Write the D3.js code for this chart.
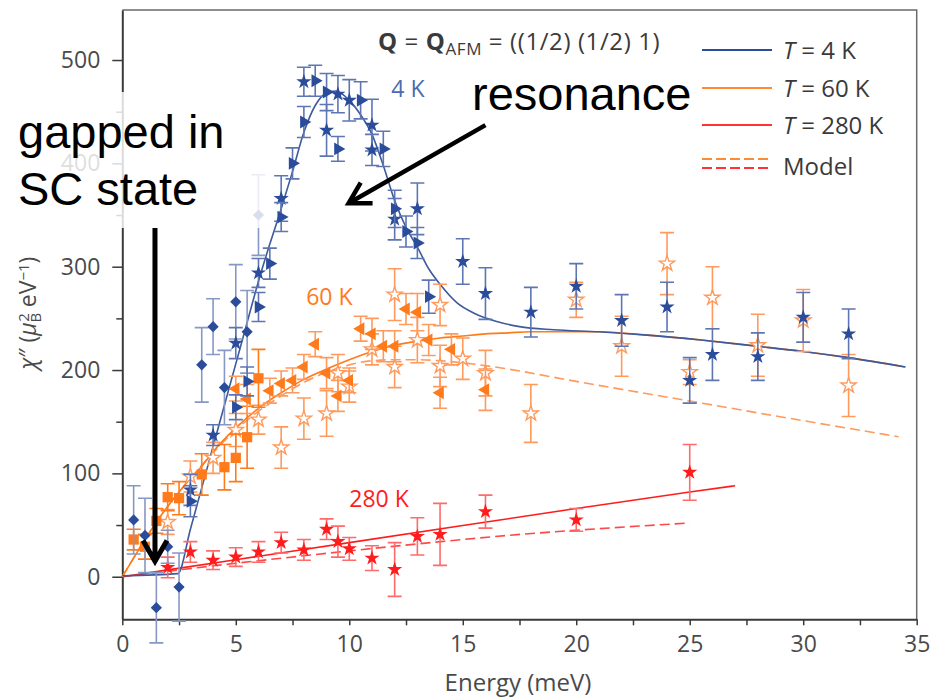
<!DOCTYPE html>
<html>
<head>
<meta charset="utf-8">
<script src="https://cdn.jsdelivr.net/npm/d3@7"></script>
<style>
  body { margin: 0; background: #fff; }
  svg { display: block; }
</style>
</head>
<body>
<svg id="chart" width="931" height="698"></svg>
<script>
// ---- axis ticks ----
const xMajorTicks = [0, 5, 10, 15, 20, 25, 30, 35];
const xMinorTicks = [2.5, 7.5, 12.5, 17.5, 22.5, 27.5, 32.5];
const yMajorTicks = [0, 100, 200, 300, 400, 500];
const yMinorTicks = [50, 150, 250, 350, 450];

// ---- measured points: [energy (meV), chi'' , error] ----
// T = 4 K
const t4Diamonds = [[0.5,55,33],[1.0,40,36],[1.5,-30,34],[2.0,29,16],[2.5,-10,33],
  [3.5,205,36],[4.0,242,27],[4.5,183,36],[5.0,266,36],[5.5,237,40],[6.0,350,39]];
const t4Stars = [[3.0,84,15],[4.0,137,10],[5.0,226,15],[6.0,294,14],[7.0,366,22],
  [8.0,479,14],[9.0,432,25],[9.5,467,18],[10.0,461,20],[11.0,437,25],[11.0,413,15],
  [12.0,346,20],[13.0,356,25],[15.0,305,22],[16.0,274,25],[18.0,256,24],[20.0,281,22],
  [22.0,248,25],[24.0,261,24],[25.0,190,22],[26.0,215,25],[28.0,213,23],[30.0,251,24],[32.0,235,24]];
const t4Triangles = [[3.0,73,15],[5.0,164,12],[5.5,189,14],[6.0,261,14],[6.5,303,15],
  [7.0,348,14],[7.5,400,15],[8.0,440,15],[8.5,480,15],[9.0,469,18],[9.5,414,12],
  [10.5,461,18],[11.5,414,17],[12.0,356,18],[12.5,334,15],[13.0,323,15],[13.5,271,16]];
// T = 60 K
const t60Squares = [[0.5,36,10],[1.0,29,12],[1.5,54,12],[2.0,77,13],[2.5,76,16],
  [3.5,99,20],[4.5,106,22],[5.0,115,23],[5.5,135,30],[6.0,192,28]];
const t60Triangles = [[5.0,182,12],[5.5,172,14],[6.5,180,12],[7.0,187,12],[7.5,190,12],
  [8.0,203,12],[8.5,225,12],[9.0,197,15],[9.5,175,15],[10.0,190,12],[10.5,240,12],
  [11.0,235,15],[11.5,223,15],[12.0,223,15],[12.5,259,15],[13.0,256,18],[13.5,229,15],
  [14.0,178,15],[14.5,220,15],[16.0,181,20]];
const t60OpenStars = [[2.0,53,12],[3.0,97,15],[4.0,115,15],[5.0,142,16],[6.0,152,14],
  [7.0,125,20],[8.0,153,20],[9.0,158,22],[9.5,197,18],[10.0,184,15],[11.0,220,15],
  [12.0,273,25],[12.0,203,20],[13.0,229,22],[14.0,263,20],[14.0,204,20],[15.0,211,20],
  [16.0,197,22],[18.0,158,28],[20.0,268,17],[22.0,223,29],[24.0,303,30],[25.0,198,12],
  [26.0,270,30],[28.0,224,30],[30.0,248,30],[32.0,185,30]];
// T = 280 K
const t280Stars = [[2.0,9,10],[3.0,24,10],[4.0,16,9],[5.0,19,9],[6.0,24,10],[7.0,33,10],
  [8.0,26,10],[9.0,46,10],[9.5,34,15],[10.0,27,11],[11.0,18,12],[12.0,7,26],[13.0,39,18],
  [14.0,41,30],[16.0,63,16],[20.0,55,11],[25.0,101,27]];

// ---- fitted curves: [energy, chi''] ----
const fit4K = [[0,1],[2.45,3],[3,46],[3.5,86],[4,126],[4.5,166],[5,206],[5.5,246],[6,286],
  [6.5,322],[7,356],[7.5,392],[8,430],[8.5,456],[9,468],[9.4,470],[10,461],[10.5,447],
  [11,428],[11.5,398],[12,364],[12.5,338],[13,319],[13.5,298],[14,283],[14.75,265],
  [15.5,255],[16.5,247],[17.5,242],[19,239],[21,237],[23,234],[25.5,229],[28,223],
  [30,218],[32,212],[34.5,203]];
const fit60K = [[0,0],[0.5,18],[1,36],[1.5,53],[2,68],[2.5,82],[3,95],[3.5,107],[4,121],
  [5,144],[6,163],[7,178],[8,191],[9,201],[10,210],[11,218],[12,224],[13,228],[14,231],
  [15,233],[16,235],[17,236],[18,237],[20,237],[21,237],[23,234],[25.5,229],[28,223],
  [30,218],[32,212],[34.5,203]];
const model60K = [[0,0],[1,36],[2,68],[3,95],[4,120],[5,142],[6,160],[7,175],[8,188],
  [9,198],[10,205],[11,209],[12,210],[13,210],[14,209],[15,207],[16.7,202],[20,189],
  [25,170],[30,151],[34.2,135.5]];
const fit280K = [[0,0],[5,16.5],[10,33],[15,49.5],[20,66],[25,82],[27,88]];
const model280K = [[0,0],[5,13],[8.3,21],[10,25],[15,36],[17,40],[20,45],[25,52]];

// ---- colours ----
const BLUE = "#2b4c9b", BLUE_BAR = "#5d76b3";
const ORANGE = "#ff7a1a", ORANGE_LIGHT = "#ff9a5c";
const RED = "#ff1c1c", RED_BAR = "#ff6a6a";
const SANS = "'Open Sans', 'Noto Sans', sans-serif";

const svg = d3.select("#chart");
const plot = { left: 122.3, right: 916.7, top: 10, bottom: 619.3 };

const x = d3.scaleLinear().domain([0, 35]).range([plot.left, plot.right]);
const y = d3.scaleLinear().domain([-41.2, 548.4]).range([plot.bottom, plot.top]);

// ---- frame (top and right) ----
svg.append("path")
  .attr("d", `M${plot.left},${plot.top}H${plot.right}V${plot.bottom}`)
  .attr("fill", "none").attr("stroke", "#6a6a6a").attr("stroke-width", 1.5);

// ---- axes ----
const axisColor = "#3a3a3a", labelColor = "#4a4a4a";
svg.append("g").attr("transform", `translate(0,${plot.bottom})`)
  .call(d3.axisBottom(x).tickValues(xMajorTicks).tickSize(6).tickSizeOuter(0).tickPadding(10));
svg.append("g").attr("transform", `translate(0,${plot.bottom})`)
  .call(d3.axisBottom(x).tickValues(xMinorTicks).tickSize(6).tickFormat("").tickSizeOuter(0))
  .call(g => g.select(".domain").remove());
svg.append("g").attr("transform", `translate(${plot.left},0)`)
  .call(d3.axisLeft(y).tickValues(yMajorTicks).tickSize(10).tickSizeOuter(0).tickPadding(12));
svg.append("g").attr("transform", `translate(${plot.left},0)`)
  .call(d3.axisLeft(y).tickValues(yMinorTicks).tickSize(6).tickFormat("").tickSizeOuter(0))
  .call(g => g.select(".domain").remove());
svg.selectAll(".domain").attr("stroke", axisColor).attr("stroke-width", 2);
svg.selectAll(".tick line").attr("stroke", axisColor).attr("stroke-width", 1.5);
svg.selectAll(".tick text").attr("fill", labelColor).attr("font-size", 23)
  .attr("font-family", SANS);

// axis titles
svg.append("text").attr("x", 518).attr("y", 691).attr("text-anchor", "middle")
  .attr("font-family", SANS).attr("fill", labelColor).attr("font-size", 24).text("Energy (meV)");
const yt = svg.append("text").attr("transform", "translate(36,313) rotate(-90)")
  .attr("font-family", SANS).attr("text-anchor", "middle").attr("fill", labelColor).attr("font-size", 23);
yt.append("tspan").style("font-style", "italic").text("\u03C7");
yt.append("tspan").text("\u2033 (");
yt.append("tspan").style("font-style", "italic").text("\u03BC");
yt.append("tspan").attr("baseline-shift", "-30%").attr("font-size", 15).text("B");
yt.append("tspan").attr("dx", -9).attr("baseline-shift", "45%").attr("font-size", 15).text("2");
yt.append("tspan").text(" eV");
yt.append("tspan").attr("baseline-shift", "45%").attr("font-size", 15).text("\u22121");
yt.append("tspan").text(")");

// ---- curves ----
const line = d3.line().x(d => x(d[0])).y(d => y(d[1])).curve(d3.curveMonotoneX);
const curves = svg.append("g").attr("fill", "none");
curves.append("path").attr("d", line(model280K)).attr("stroke", RED).attr("stroke-width", 1.6)
  .attr("stroke-dasharray", "10,5").attr("opacity", 0.8);
curves.append("path").attr("d", line(fit280K)).attr("stroke", RED).attr("stroke-width", 1.6);
curves.append("path").attr("d", line(model60K)).attr("stroke", ORANGE_LIGHT).attr("stroke-width", 1.6)
  .attr("stroke-dasharray", "10,5");
curves.append("path").attr("d", line(fit60K)).attr("stroke", ORANGE).attr("stroke-width", 1.6);
curves.append("path").attr("d", line(fit4K)).attr("stroke", "#3c5a9c").attr("stroke-width", 1.6);

// ---- data points with error bars ----
const shape = {
  star: d3.symbol().type(d3.symbolStar).size(72),
  diamond: d3.symbol().type(d3.symbolDiamond2 || d3.symbolDiamond).size(80),
  square: d3.symbol().type(d3.symbolSquare).size(105),
  tri: d3.symbol().type(d3.symbolTriangle).size(72)
};
function drawSeries(data, opt) {
  const g = svg.append("g");
  const cap = 7;
  const pts = g.selectAll("g").data(data).join("g");
  pts.append("path")
    .attr("d", d => `M${x(d[0])},${y(d[1] - d[2])}V${y(d[1] + d[2])}` +
      `M${x(d[0]) - cap},${y(d[1] - d[2])}h${2 * cap}M${x(d[0]) - cap},${y(d[1] + d[2])}h${2 * cap}`)
    .attr("stroke", opt.bar).attr("stroke-width", 1.6).attr("fill", "none");
  pts.append("path")
    .attr("d", shape[opt.shape])
    .attr("transform", d => `translate(${x(d[0])},${y(d[1])}) rotate(${opt.rotate || 0})`)
    .attr("fill", opt.fill).attr("stroke", opt.stroke || "none").attr("stroke-width", opt.sw || 0);
}
drawSeries(t280Stars, { shape: "star", fill: RED, bar: RED_BAR });
drawSeries(t60OpenStars, { shape: "star", fill: "#fff", stroke: ORANGE_LIGHT, sw: 1.4, bar: ORANGE_LIGHT });
drawSeries(t60Squares, { shape: "square", fill: ORANGE, bar: ORANGE });
drawSeries(t60Triangles, { shape: "tri", rotate: -90, fill: ORANGE, bar: ORANGE_LIGHT });
drawSeries(t4Diamonds, { shape: "diamond", fill: BLUE, bar: "#8798c4" });
drawSeries(t4Stars, { shape: "star", fill: BLUE, bar: BLUE_BAR });
drawSeries(t4Triangles, { shape: "tri", rotate: 90, fill: BLUE, bar: BLUE_BAR });

// ---- curve labels ----
const curveLabel = (e, v, color, s) => svg.append("text").attr("x", x(e)).attr("y", y(v))
  .attr("font-family", SANS).attr("fill", color).attr("font-size", 23).text(s);
curveLabel(11.85, 464, "#4a6bb0", "4 K");
curveLabel(8.1, 263, ORANGE, "60 K");
curveLabel(10.0, 67.5, RED, "280 K");

// ---- title ----
const tt = svg.append("text").attr("x", 378).attr("y", 50).attr("fill", "#3a3a3a")
  .attr("font-family", SANS).attr("font-size", 24).attr("letter-spacing", 0.6);
tt.append("tspan").attr("font-weight", "bold").text("Q");
tt.append("tspan").text(" = ");
tt.append("tspan").attr("font-weight", "bold").text("Q");
tt.append("tspan").attr("baseline-shift", "-30%").attr("font-size", 17).text("AFM");
tt.append("tspan").text(" = ((1/2) (1/2) 1)");

// ---- legend ----
const legendItems = [
  { label: "4 K", color: "#2a4d9a", y: 50 },
  { label: "60 K", color: "#ff8a30", y: 88 },
  { label: "280 K", color: "#ff3333", y: 125 }
];
const lg = svg.append("g");
legendItems.forEach(it => {
  lg.append("line").attr("x1", 702).attr("x2", 772).attr("y1", it.y).attr("y2", it.y)
    .attr("stroke", it.color).attr("stroke-width", 1.8);
  const t = lg.append("text").attr("x", 783).attr("y", it.y + 9).attr("fill", "#3a3a3a")
    .attr("font-family", SANS).attr("font-size", 24);
  t.append("tspan").style("font-style", "italic").text("T");
  t.append("tspan").text(" = " + it.label);
});
lg.append("line").attr("x1", 702).attr("x2", 772).attr("y1", 159).attr("y2", 159)
  .attr("stroke", "#ff8a30").attr("stroke-width", 1.8).attr("stroke-dasharray", "10,4");
lg.append("line").attr("x1", 702).attr("x2", 772).attr("y1", 168).attr("y2", 168)
  .attr("stroke", "#ff3333").attr("stroke-width", 1.8).attr("stroke-dasharray", "10,4");
lg.append("text").attr("x", 783).attr("y", 175).attr("fill", "#3a3a3a")
  .attr("font-family", SANS).attr("font-size", 24).text("Model");

// ---- annotations ----
svg.append("rect").attr("x", 0).attr("y", 92).attr("width", 266).attr("height", 136)
  .attr("fill", "#fff").attr("opacity", 0.82);

const ARIAL = "'Liberation Sans', Arial, sans-serif";
const note = (px, py, s) => svg.append("text").attr("x", px).attr("y", py)
  .attr("font-family", ARIAL).attr("font-size", 47).attr("fill", "#000").text(s);
note(18, 148, "gapped in");
note(18, 205, "SC state");
note(472, 110, "resonance");

function arrow(x1, y1, x2, y2, w, head) {
  const a = Math.atan2(y1 - y2, x1 - x2);
  const s = Math.PI / 6;
  svg.append("path")
    .attr("d", `M${x1},${y1}L${x2},${y2}` +
      `M${x2 + head * Math.cos(a - s)},${y2 + head * Math.sin(a - s)}L${x2},${y2}` +
      `L${x2 + head * Math.cos(a + s)},${y2 + head * Math.sin(a + s)}`)
    .attr("fill", "none").attr("stroke", "#000").attr("stroke-width", w)
    .attr("stroke-linejoin", "miter").attr("stroke-linecap", "butt");
}
arrow(x(1.44), y(337.5), x(1.44), y(15), 5, 24);
arrow(x(16.0), y(437), x(9.97), y(361.4), 4.5, 24);
</script>
</body>
</html>
